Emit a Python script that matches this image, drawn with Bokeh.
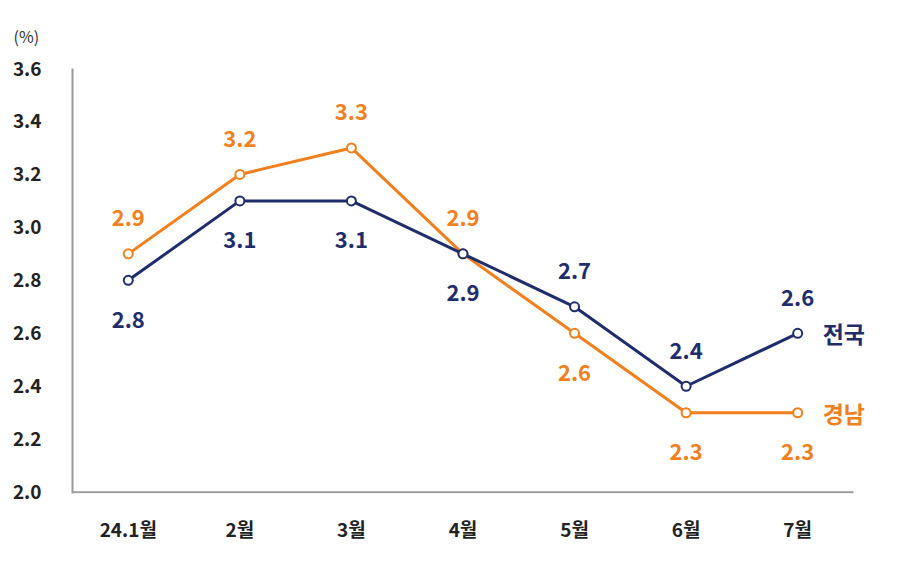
from bokeh.plotting import figure
from bokeh.models import Range1d, FixedTicker, PrintfTickFormatter, ColumnDataSource, Label
from bokeh.core.properties import value
from bokeh.embed import file_html
from bokeh.resources import INLINE

months = ["24.1월", "2월", "3월", "4월", "5월", "6월", "7월"]
national = [2.8, 3.1, 3.1, 2.9, 2.7, 2.4, 2.6]
gyeongnam = [2.9, 3.2, 3.3, 2.9, 2.6, 2.3, 2.3]
national_label_pos = ["below", "below", "below", "below", "above", "above", "above"]
gyeongnam_label_pos = ["above", "above", "above", "above", "below", "below", "below"]
y_ticks = [2.0, 2.2, 2.4, 2.6, 2.8, 3.0, 3.2, 3.4, 3.6]

NAVY = "#1f2d6b"
ORANGE = "#f07f1e"
FONT = "Noto Sans CJK KR"

xpos = [i + 0.5 for i in range(len(months))]
n = len(months)

p = figure(width=900, height=563, x_range=Range1d(0, n + 0.332), y_range=Range1d(1.995, 3.6),
           output_backend="svg", toolbar_location=None,
           min_border_left=72, min_border_right=10, min_border_top=67, min_border_bottom=70)
p.outline_line_color = None
p.xgrid.grid_line_color = None
p.ygrid.grid_line_color = None
p.background_fill_color = "white"

p.title.text = "(%)"
p.title.align = "left"
p.title.offset = -59
p.title.standoff = 42
p.title.text_font = FONT
p.title.text_font_size = "16px"
p.title.text_font_style = "normal"
p.title.text_color = "#333333"

for ax in (p.xaxis[0], p.yaxis[0]):
    ax.axis_line_color = "#9a9a9a"
    ax.axis_line_width = 2
    ax.major_tick_line_color = None
    ax.minor_tick_line_color = None
    ax.major_label_text_font = FONT
    ax.major_label_text_font_style = "bold"
    ax.major_label_text_font_size = "19px"
    ax.major_label_text_color = "#222222"

p.xaxis.axis_line_color = None
p.xaxis.ticker = FixedTicker(ticks=xpos)
p.xaxis.major_label_overrides = {x: m for x, m in zip(xpos, months)}
p.yaxis.ticker = FixedTicker(ticks=y_ticks)
p.yaxis.formatter = PrintfTickFormatter(format="%.1f")
p.yaxis.major_label_standoff = 25
p.xaxis.major_label_standoff = 15

# bottom axis line ending after the last month
p.segment(x0=[0], y0=[y_ticks[0]], x1=[n], y1=[y_ticks[0]], line_color="#9a9a9a", line_width=2)

def add_series(vals, pos, color):
    offs = [-36 if s == "above" else 39 for s in pos]
    src = ColumnDataSource(dict(x=xpos, y=vals, t=["%.1f" % v for v in vals], off=offs))
    p.line("x", "y", source=src, line_color=color, line_width=3)
    p.scatter("x", "y", source=src, size=9, fill_color="white", line_color=color, line_width=2)
    p.text("x", "y", text="t", source=src, y_offset="off", text_align="center", text_baseline="middle",
           text_color=color, text_font=value(FONT), text_font_size="22px", text_font_style="bold")

add_series(gyeongnam, gyeongnam_label_pos, ORANGE)
add_series(national, national_label_pos, NAVY)

p.add_layout(Label(x=xpos[-1], y=national[-1], x_offset=25, text="전국", text_color=NAVY, text_font=FONT,
                   text_font_size="23px", text_font_style="bold", text_baseline="middle"))
p.add_layout(Label(x=xpos[-1], y=gyeongnam[-1], x_offset=25, text="경남", text_color=ORANGE, text_font=FONT,
                   text_font_size="23px", text_font_style="bold", text_baseline="middle"))

open("out.html", "w").write(file_html(p, INLINE))
